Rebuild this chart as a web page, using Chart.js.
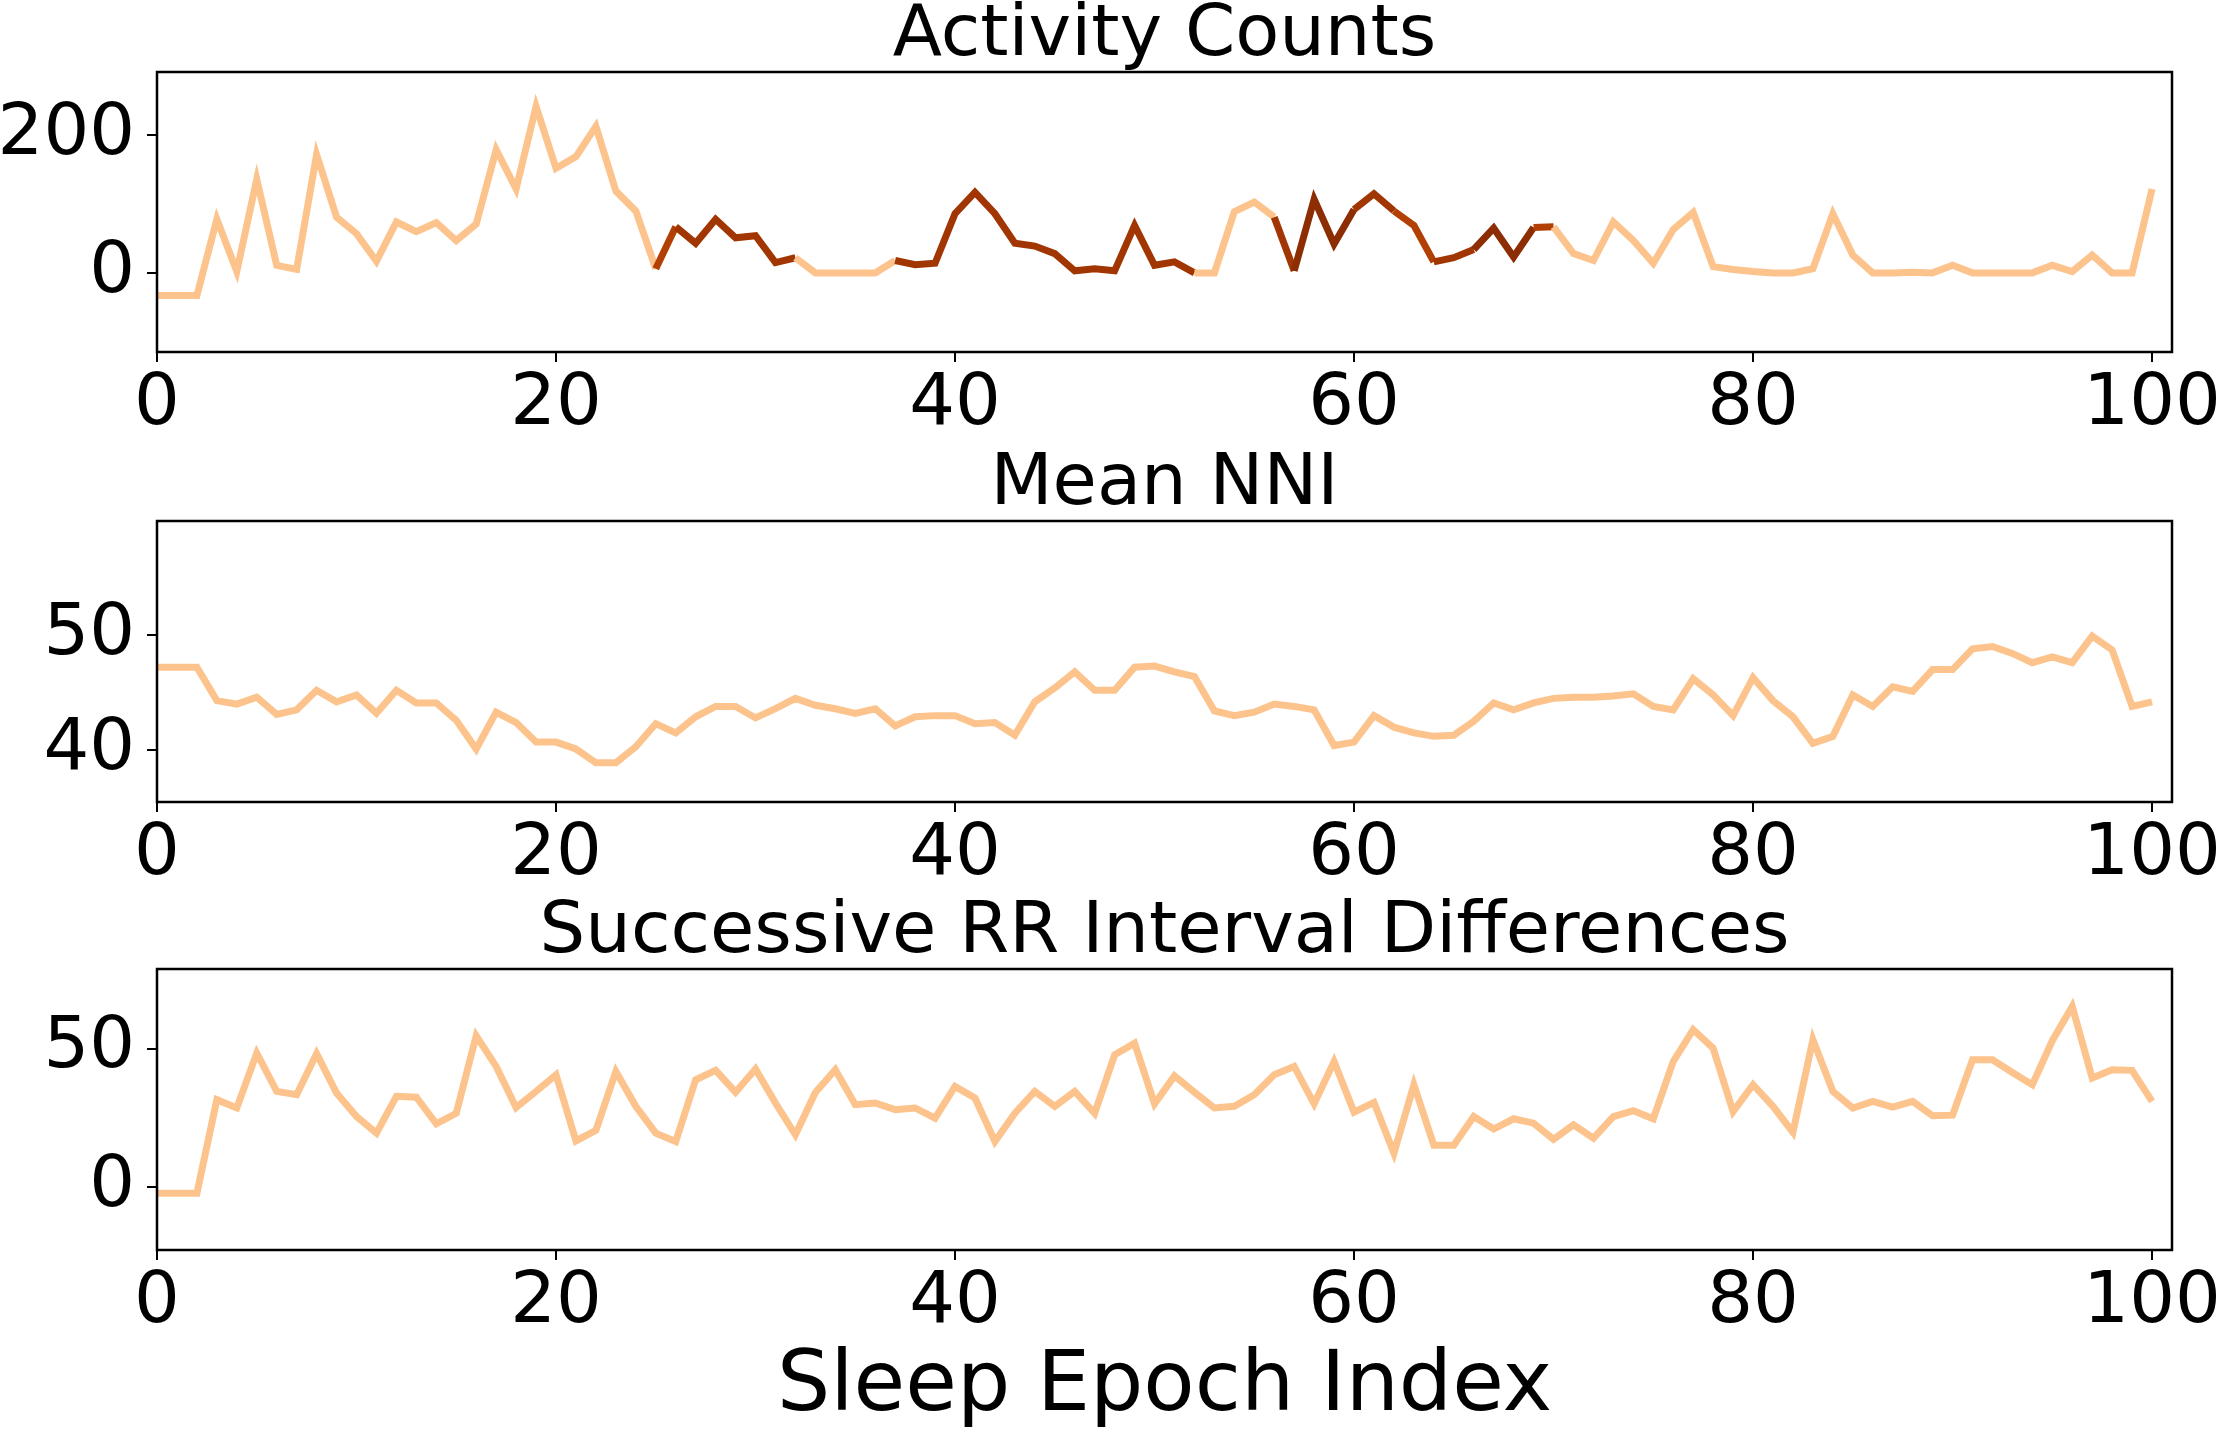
<!DOCTYPE html>
<html>
<head>
<meta charset="utf-8">
<script src="https://cdn.jsdelivr.net/npm/chart.js@4"></script>
<style>
  html, body { margin: 0; padding: 0; background: #fff; }
  body { width: 2220px; height: 1433px; position: relative; overflow: hidden; }
  .panel { position: absolute; left: 0; width: 2220px; }
</style>
</head>
<body>
<div class="panel" style="top:0px;height:440px"><canvas id="activityChart" width="2220" height="440"></canvas></div>
<div class="panel" style="top:449px;height:440px"><canvas id="nniChart" width="2220" height="440"></canvas></div>
<div class="panel" style="top:897px;height:536px"><canvas id="rrChart" width="2220" height="536"></canvas></div>
<script>
// epoch index 0..100
const epochs = Array.from({ length: 101 }, (_, i) => i);
const xTicks = [0, 20, 40, 60, 80, 100];

const activityCounts = [
    -33, -33, -33, 78, 2, 136, 11, 5, 172, 81,
    57, 17, 74, 60, 73, 47, 71, 179, 122, 242,
    152, 169, 213, 119, 90, 6, 67, 43, 78, 51,
    54, 15, 22, 0, 0, 0, 0, 18, 12, 14,
    86, 117, 86, 43, 39, 28, 3, 6, 3, 69,
    11, 16, 0, 0, 89, 103, 81, 3, 107, 42,
    92, 115, 90, 69, 16, 22, 34, 65, 23, 66,
    67, 28, 18, 74, 47, 14, 63, 88, 9, 5,
    2, 0, 0, 6, 86, 26, 0, 0, 1, 0,
    11, 0, 0, 0, 0, 11, 2, 26, 0, 0,
    122
];
// sleep stage of each segment (epoch i -> i+1), 0 = wake
const activityStage = [
    0, 0, 0, 0, 0, 0, 0, 0, 0, 0,
    0, 0, 0, 0, 0, 0, 0, 0, 0, 0,
    0, 0, 0, 0, 0, 1, 2, 2, 2, 2,
    2, 2, 0, 0, 0, 0, 0, 2, 2, 2,
    2, 2, 2, 2, 2, 2, 2, 2, 2, 2,
    2, 2, 0, 0, 0, 0, 2, 3, 3, 3,
    2, 2, 1, 1, 2, 2, 3, 3, 3, 1,
    0, 0, 0, 0, 0, 0, 0, 0, 0, 0,
    0, 0, 0, 0, 0, 0, 0, 0, 0, 0,
    0, 0, 0, 0, 0, 0, 0, 0, 0, 0,
    0
];
const activityTicks = [0, 200];

const meanNNI = [
    47.2, 47.2, 47.2, 44.3, 44.0, 44.6, 43.1, 43.5, 45.2, 44.2,
    44.8, 43.2, 45.2, 44.1, 44.1, 42.6, 40.1, 43.3, 42.4, 40.7,
    40.7, 40.1, 38.9, 38.9, 40.3, 42.3, 41.5, 42.9, 43.8, 43.8,
    42.8, 43.6, 44.5, 43.9, 43.6, 43.2, 43.6, 42.1, 42.9, 43.0,
    43.0, 42.3, 42.4, 41.3, 44.2, 45.4, 46.8, 45.2, 45.2, 47.2,
    47.3, 46.8, 46.4, 43.4, 43.0, 43.3, 44.0, 43.8, 43.5, 40.4,
    40.7, 43.0, 42.0, 41.5, 41.2, 41.3, 42.5, 44.1, 43.5, 44.1,
    44.5, 44.6, 44.6, 44.7, 44.9, 43.8, 43.5, 46.2, 44.8, 43.0,
    46.3, 44.3, 42.9, 40.6, 41.2, 44.8, 43.8, 45.5, 45.1, 47.0,
    47.0, 48.8, 49.0, 48.4, 47.6, 48.1, 47.6, 49.9, 48.7, 43.8,
    44.2
];
const nniTicks = [40, 50];

const rrDiffs = [
    -2.2, -2.2, -2.2, 31.6, 28.6, 48.4, 34.6, 33.4, 48.2, 34.0,
    25.5, 19.5, 32.8, 32.5, 22.9, 26.7, 54.7, 43.6, 28.8, 34.6,
    40.6, 16.7, 20.5, 41.8, 29.2, 19.5, 16.5, 38.8, 42.2, 34.3,
    42.7, 30.4, 18.9, 34.2, 42.4, 29.8, 30.4, 28.0, 28.6, 24.9,
    36.4, 32.2, 16.5, 26.7, 34.6, 29.2, 34.6, 26.7, 47.8, 52.0,
    30.1, 40.2, 34.3, 28.6, 29.2, 33.4, 40.6, 43.6, 30.1, 45.4,
    27.1, 30.6, 12.3, 37.0, 15.1, 15.1, 25.5, 21.0, 24.7, 23.1,
    17.3, 22.5, 17.7, 25.5, 27.6, 24.7, 45.4, 56.9, 50.2, 27.3,
    37.0, 29.2, 19.8, 53.3, 34.6, 28.6, 31.0, 28.9, 31.0, 25.8,
    26.0, 46.0, 46.0, 41.4, 37.0, 52.9, 65.3, 39.4, 42.4, 42.2,
    31.0
];
const rrTicks = [0, 50];

const WAKE = '#fdc38d';
const stageColors = [WAKE, '#b24005', '#a23603', '#8c2d04'];

Chart.defaults.font.family = '"DejaVu Sans", sans-serif';
Chart.defaults.color = '#000';

// matplotlib-like box around the plot area
const frame = {
    id: 'frame',
    afterDatasetsDraw(chart) {
        const a = chart.chartArea;
        const ctx = chart.ctx;
        ctx.save();
        ctx.strokeStyle = '#000';
        ctx.lineWidth = 2.5;
        ctx.strokeRect(a.left, a.top, a.right - a.left, a.bottom - a.top);
        ctx.restore();
    }
};

function makeChart(id, title, values, yMin, yMax, yTicks, xHeight, xTitle, segmentColor) {
    const ctx = document.getElementById(id).getContext('2d');
    const dataset = {
        data: values.map((v, i) => ({ x: epochs[i], y: v })),
        borderColor: WAKE,
        borderWidth: 7,
        borderCapStyle: 'butt',
        borderJoinStyle: 'miter',
        pointRadius: 0,
        tension: 0,
        fill: false
    };
    if (segmentColor) {
        dataset.segment = { borderColor: segmentColor };
    }

    return new Chart(ctx, {
        type: 'line',
        data: { datasets: [dataset] },
        plugins: [frame],
        options: {
            responsive: false,
            animation: false,
            events: [],
            layout: { padding: { left: 0, right: 48, top: 0, bottom: 0 } },
            plugins: {
                legend: { display: false },
                tooltip: { enabled: false },
                title: {
                    display: true,
                    text: title,
                    fullSize: false,
                    font: { size: 72, weight: 'normal', lineHeight: 0.8 },
                    padding: { top: 7, bottom: 7.4 },
                    color: '#000'
                }
            },
            scales: {
                x: {
                    type: 'linear',
                    min: 0,
                    max: 101,
                    afterBuildTicks: scale => { scale.ticks = xTicks.map(v => ({ value: v })); },
                    afterFit: scale => {
                        scale.height = xHeight;
                        scale.paddingLeft = 0;
                        scale.paddingRight = 0;
                    },
                    border: { display: false },
                    grid: {
                        drawOnChartArea: false,
                        drawTicks: true,
                        tickLength: 10,
                        color: '#000',
                        lineWidth: 2
                    },
                    ticks: {
                        font: { size: 72 },
                        padding: 0,
                        maxRotation: 0,
                        autoSkip: false,
                        color: '#000'
                    },
                    title: xTitle ? {
                        display: true,
                        text: xTitle,
                        font: { size: 84, lineHeight: 1 },
                        padding: { top: 0, bottom: 3 },
                        color: '#000'
                    } : { display: false }
                },
                y: {
                    min: yMin,
                    max: yMax,
                    afterBuildTicks: scale => { scale.ticks = yTicks.map(v => ({ value: v })); },
                    afterFit: scale => {
                        scale.width = 157;
                        scale.paddingTop = 0;
                        scale.paddingBottom = 0;
                    },
                    border: { display: false },
                    grid: {
                        drawOnChartArea: false,
                        drawTicks: true,
                        tickLength: 10,
                        color: '#000',
                        lineWidth: 2
                    },
                    ticks: {
                        font: { size: 72 },
                        padding: 12,
                        color: '#000'
                    }
                }
            }
        }
    });
}

document.addEventListener('DOMContentLoaded', () => {
    makeChart('activityChart', 'Activity Counts', activityCounts, -115, 292, activityTicks, 88, null,
        c => stageColors[activityStage[c.p0DataIndex]]);
    makeChart('nniChart', 'Mean NNI', meanNNI, 35.5, 59.9, nniTicks, 87, null, null);
    makeChart('rrChart', 'Successive RR Interval Differences', rrDiffs, -22.7, 78.8, rrTicks, 183, 'Sleep Epoch Index', null);
});
</script>
</body>
</html>
